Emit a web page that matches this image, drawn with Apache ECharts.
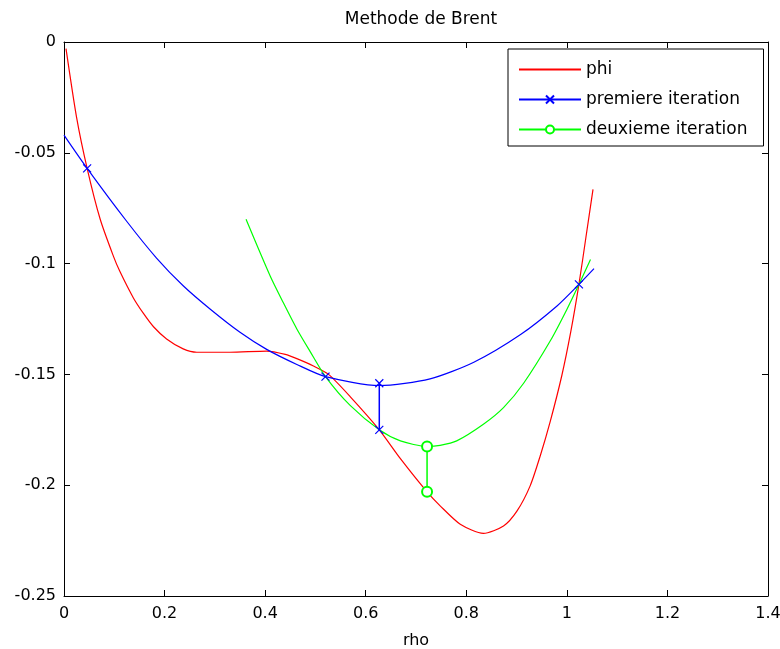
<!DOCTYPE html>
<html>
<head>
<meta charset="utf-8">
<script src="https://cdn.jsdelivr.net/npm/echarts@6/dist/echarts.min.js"></script>
<style>html,body{margin:0;padding:0;background:#fff}#c{width:780px;height:649px}</style>
</head>
<body>
<div id="c"></div>
<script>
// ---- data ----
const xTicks = [0, 0.2, 0.4, 0.6, 0.8, 1, 1.2, 1.4];
const yTicks = [0, -0.05, -0.1, -0.15, -0.2, -0.25];

const phiRho = [0.004, 0.025, 0.046, 0.072, 0.098, 0.111, 0.138, 0.158, 0.178, 0.204, 0.237, 0.264, 0.330, 0.403, 0.440, 0.463, 0.496, 0.526, 0.569, 0.627, 0.669, 0.722, 0.748, 0.788, 0.834, 0.874, 0.901, 0.927, 0.947, 0.967, 0.990, 1.008, 1.024, 1.038, 1.052];
const phiVal = [-0.003, -0.034, -0.057, -0.080, -0.0965, -0.1035, -0.1155, -0.1225, -0.1285, -0.134, -0.1385, -0.140, -0.140, -0.1395, -0.141, -0.1429, -0.1462, -0.150, -0.160, -0.175, -0.188, -0.203, -0.2093, -0.2176, -0.2217, -0.2184, -0.2116, -0.2003, -0.1868, -0.1712, -0.1505, -0.1305, -0.1094, -0.088, -0.0665];

const it1Rho = [0, 0.046, 0.125, 0.184, 0.237, 0.291, 0.350, 0.403, 0.463, 0.520, 0.627, 0.728, 0.815, 0.908, 0.981, 1.024, 1.054];
const it1Val = [-0.042, -0.057, -0.081, -0.0975, -0.110, -0.1206, -0.131, -0.1387, -0.1455, -0.151, -0.155, -0.152, -0.1445, -0.132, -0.119, -0.1094, -0.1023];
const it1Marks = [1, 9, 15];           // indices of points drawn with an x
const it1SegRho = [0.627, 0.627];
const it1SegVal = [-0.154, -0.175];

const it2Rho = [0.362, 0.410, 0.436, 0.463, 0.489, 0.520, 0.569, 0.627, 0.669, 0.722, 0.748, 0.781, 0.834, 0.874, 0.914, 0.968, 1.000, 1.024, 1.047];
const it2Val = [-0.080, -0.1056, -0.1176, -0.1295, -0.1395, -0.151, -0.164, -0.175, -0.180, -0.1825, -0.182, -0.180, -0.1725, -0.165, -0.154, -0.1345, -0.1207, -0.1094, -0.0982];
const it2SegRho = [0.722, 0.722];
const it2SegVal = [-0.1825, -0.203];

const names = ['phi', 'premiere iteration', 'deuxieme iteration'];
const title = 'Methode de Brent';
const xName = 'rho';

// ---- build ----
const FONT = 'DejaVu Sans';
const XSYM = 'path://M0,0L10,10M10,0L0,10';
const zip = (a, b) => a.map((v, i) => [v, b[i]]);

const it1Data = it1Rho.map((x, i) => it1Marks.includes(i) ? { value: [x, it1Val[i]] } : { value: [x, it1Val[i]], symbol: 'none' });
const it2Data = zip(it2Rho, it2Val).map(p => ({ value: p, symbol: 'none' }));

const chart = echarts.init(document.getElementById('c'), null, { renderer: 'canvas' });
const axisCommon = {
  axisLine: { show: true, onZero: false, lineStyle: { color: '#000', width: 1 } },
  axisTick: { show: true, inside: true, length: 6, lineStyle: { color: '#000' } },
  splitLine: { show: false }
};
const fmt = v => String(parseFloat(v.toFixed(2)));
chart.setOption({
  animation: false,
  backgroundColor: '#fff',
  title: {
    text: title, left: 416, top: 6, textAlign: 'center',
    textStyle: { fontFamily: FONT, fontSize: 17, fontWeight: 'normal', color: '#000' }
  },
  grid: { left: 64, right: 12, top: 42, bottom: 53, containLabel: false, outerBoundsMode: 'none' },
  legend: {
    data: [
      { name: names[0], itemStyle: { opacity: 0 } },
      { name: names[1] },
      { name: names[2] }
    ],
    orient: 'vertical', left: 508, top: 49,
    padding: [12, 16, 8, 10], itemGap: 13, itemWidth: 62, itemHeight: 10,
    borderColor: '#000', borderWidth: 1, backgroundColor: '#fff',
    textStyle: { fontFamily: FONT, fontSize: 17, color: '#000' }
  },
  xAxis: [
    Object.assign({ type: 'value', min: 0, max: 1.4, interval: 0.2, position: 'bottom',
      name: xName, nameLocation: 'middle', nameGap: 37,
      nameTextStyle: { fontFamily: FONT, fontSize: 16, color: '#000' },
      axisLabel: { fontFamily: FONT, fontSize: 16, color: '#000', margin: 10, formatter: fmt } }, axisCommon),
    Object.assign({ type: 'value', min: 0, max: 1.4, interval: 0.2, position: 'top',
      axisLabel: { show: false } }, axisCommon)
  ],
  yAxis: [
    Object.assign({ type: 'value', min: -0.25, max: 0, interval: 0.05, position: 'left',
      axisLabel: { fontFamily: FONT, fontSize: 16, color: '#000', margin: 8, formatter: fmt } }, axisCommon),
    Object.assign({ type: 'value', min: -0.25, max: 0, interval: 0.05, position: 'right',
      axisLabel: { show: false } }, axisCommon)
  ],
  series: [
    { name: names[0], type: 'line', data: zip(phiRho, phiVal), symbol: 'none', smooth: 0.25,
      lineStyle: { color: '#ff0000', width: 1.2 }, itemStyle: { color: '#ff0000' } },
    { name: names[1], type: 'line', data: it1Data, symbol: XSYM, symbolSize: 8, showAllSymbol: true, smooth: 0.25,
      lineStyle: { color: '#0000ff', width: 1.2 },
      itemStyle: { color: 'rgba(0,0,0,0)', borderColor: '#0000ff', borderWidth: 1.2 } },
    { name: names[2], type: 'line', data: it2Data, symbol: 'emptyCircle', symbolSize: 10, showAllSymbol: true, smooth: 0.25,
      lineStyle: { color: '#00ff00', width: 1.2 },
      itemStyle: { color: '#00ff00', borderWidth: 1.2 } },
    { name: 'seg1', type: 'line', data: zip(it1SegRho, it1SegVal), symbol: XSYM, symbolSize: 8,
      lineStyle: { color: '#0000ff', width: 1.5 },
      itemStyle: { color: 'rgba(0,0,0,0)', borderColor: '#0000ff', borderWidth: 1.2 } },
    { name: 'seg2', type: 'line', data: zip(it2SegRho, it2SegVal), symbol: 'emptyCircle', symbolSize: 10,
      lineStyle: { color: '#00ff00', width: 1.5 },
      itemStyle: { color: '#00ff00', borderWidth: 1.2 } }
  ]
});
</script>
</body>
</html>
